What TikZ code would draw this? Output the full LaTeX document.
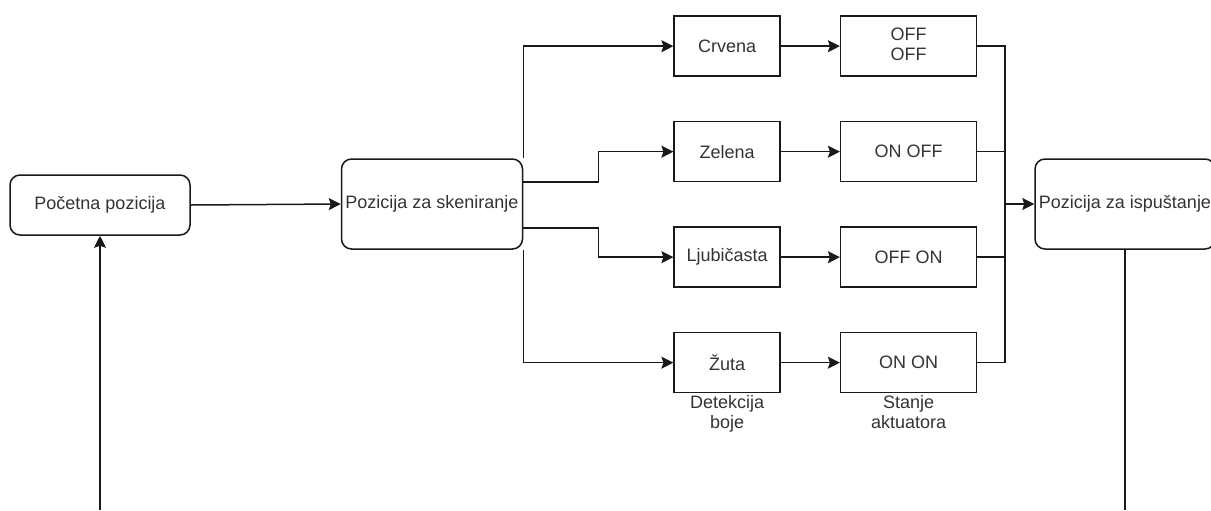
\documentclass[tikz,border=0pt]{standalone}
\usepackage{fontspec}
\setmainfont{Liberation Sans}
\usetikzlibrary{matrix,arrows.meta}

\begin{document}
\begin{tikzpicture}[x=0.5pt,y=-0.5pt,
every node/.style={%anchor=base,
    font=\fontsize{9}{10}\selectfont, text=black!80, inner sep=1pt
    },
pozicija/.style={draw=black!90, line width=0.75pt, rounded corners=5pt, align=center},
blok/.style={draw=black!90, line width=0.75pt, minimum height=30pt, anchor=center},
arr/.style={-{Stealth[length=6pt,width=6pt,inset=1pt]}, line width=0.75pt, draw=black!90},
veza/.style={line width=0.75pt, draw=black!90}
]
\useasboundingbox (0,0) rectangle (1211,510);

\node[pozicija, minimum width=90pt, minimum height=30pt] (p) at (100,205) {Početna pozicija};
\node[pozicija, minimum width=90.5pt, minimum height=45pt] (s) at (432,204) {Pozicija za skeniranje};
\node[pozicija, minimum width=90pt, minimum height=45pt] (i) at (1125,204) {Pozicija za ispuštanje};

\matrix (m) [matrix of nodes, inner sep=0pt, anchor=north west, column sep=29.5pt, row sep=22pt,
  column 1/.style={nodes={blok, minimum width=53pt}},
  column 2/.style={nodes={blok, minimum width=68pt}},
  ampersand replacement=\&] at (673,15) {
Crvena \& \begin{tabular}{@{}c@{}}OFF\\OFF\end{tabular} \\
Zelena \& ON OFF \\
Ljubičasta \& OFF ON \\
Žuta \& ON ON \\
};

\node[anchor=north, align=center] (detekcija) at (m-4-1.south) {Detekcija\\boje};
\node[anchor=north, align=center] (stanje) at (m-4-2.south) {Stanje\\aktuatora};

\coordinate (sabir) at (1005,204);
\coordinate (izlaz) at (i.south |- 0,510);
\coordinate (povratak) at (p.south |- 0,510);

\draw[arr] (p.east) -- (s.west);
\draw[arr] (s.north east) |- (m-1-1.west);
\draw[arr] ([yshift=11pt]s.east) -- ++(75,0) |- (m-2-1.west);
\draw[arr] ([yshift=-12pt]s.east) -- ++(75,0) |- (m-3-1.west);
\draw[arr] (s.south east) |- (m-4-1.west);

\foreach \i in {1,...,4}
    \draw [arr] (m-\i-1) -- (m-\i-2);

\foreach \i in {1,...,4}
    \draw [veza] (m-\i-2.east) -| (sabir);

\draw[arr] (sabir) -- (i.west);
\draw[veza] (i.south) -- (izlaz);
\draw[arr] (povratak) -- (p.south);

\end{tikzpicture}
\end{document}
